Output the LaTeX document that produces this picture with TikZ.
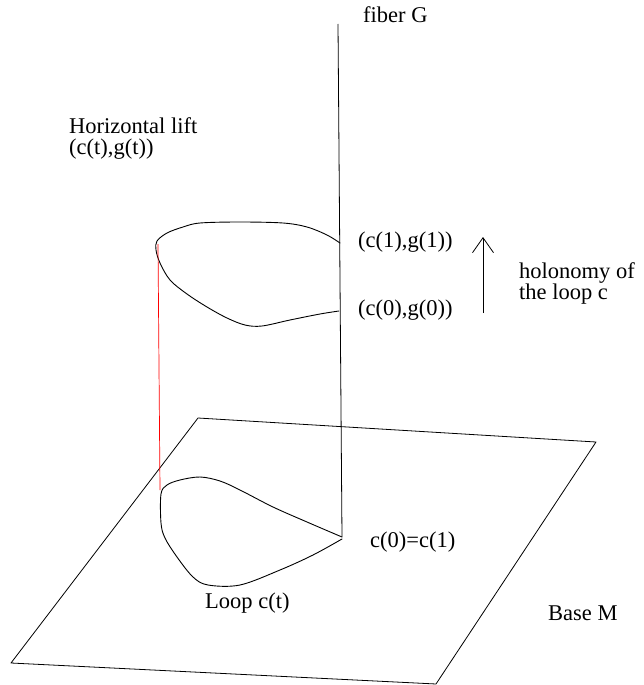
\documentclass[tikz,border=0pt]{standalone}
\usepackage{fontspec}
\setmainfont{Liberation Serif}
\usetikzlibrary{arrows.meta}
\begin{document}
\begin{tikzpicture}[x=1pt,y=-1pt,
  lbl/.style={anchor=base west, inner sep=0pt, font=\fontsize{22.5}{24}\selectfont},
  edge/.style={line width=0.8pt, line join=round},
  curve/.style={line width=0.9pt, line join=round, line cap=round},
  lift/.style={red, line width=0.7pt}]
\useasboundingbox (0,0) rectangle (644,685);
% base plane
\coordinate (pTL) at (198,418);
\coordinate (pTR) at (596,442);
\coordinate (pBR) at (436,684);
\coordinate (pBL) at (11,663);
\draw[edge] (pTL) -- (pTR) -- (pBR) -- (pBL) -- cycle;
% fiber
\coordinate (ftop) at (338,24);
\coordinate (fbot) at (342,537);
\draw[edge] (ftop) -- (fbot);
% upper loop (horizontal lift)
\draw[curve] plot[smooth, tension=0.55] coordinates {(340,243) (327,235) (307,227) (283,223) (240,222) (200,223) (183,227) (167,233) (157,241) (156,250) (160,263) (170,280) (187,294) (207,307) (227,318) (245,325) (262,326) (290,320) (320,314) (339,311)};
% lower loop
\draw[curve] plot[smooth, tension=0.55] coordinates {(342,537) (307,522) (273,507) (240,490) (220,481) (200,477) (180,480) (167,485) (161,494) (161,523) (165,538) (177,557) (193,577) (208,585) (240,585) (280,570) (313,555) (342,539)};
% red vertical
\coordinate (rtop) at (158,244);
\coordinate (rbot) at (160,490);
\draw[lift] (rtop) -- (rbot);
% holonomy arrow
\coordinate (a0) at (483,313);
\coordinate (a1) at (483,237);
\draw[edge, -{Straight Barb[length=15pt,width=21pt]}] (a0) -- (a1);
% labels
\node[lbl] (fiber) at (363,22.5) {fiber G};
\node[lbl] (hl1) at (69,133) {Horizontal lift};
\node[lbl] (hl2) at (69,154) {(c(t),g(t))};
\node[lbl] (c1) at (358,247) {(c(1),g(1))};
\node[lbl] (c0) at (358,315.5) {(c(0),g(0))};
\node[lbl] (hol1) at (519,278) {holonomy of};
\node[lbl] (hol2) at (519,299) {the loop c};
\node[lbl] (c01) at (370,547) {c(0)=c(1)};
\node[lbl] (loop) at (205,608) {Loop c(t)};
\node[lbl] (base) at (548,620) {Base M};
\end{tikzpicture}
\end{document}
